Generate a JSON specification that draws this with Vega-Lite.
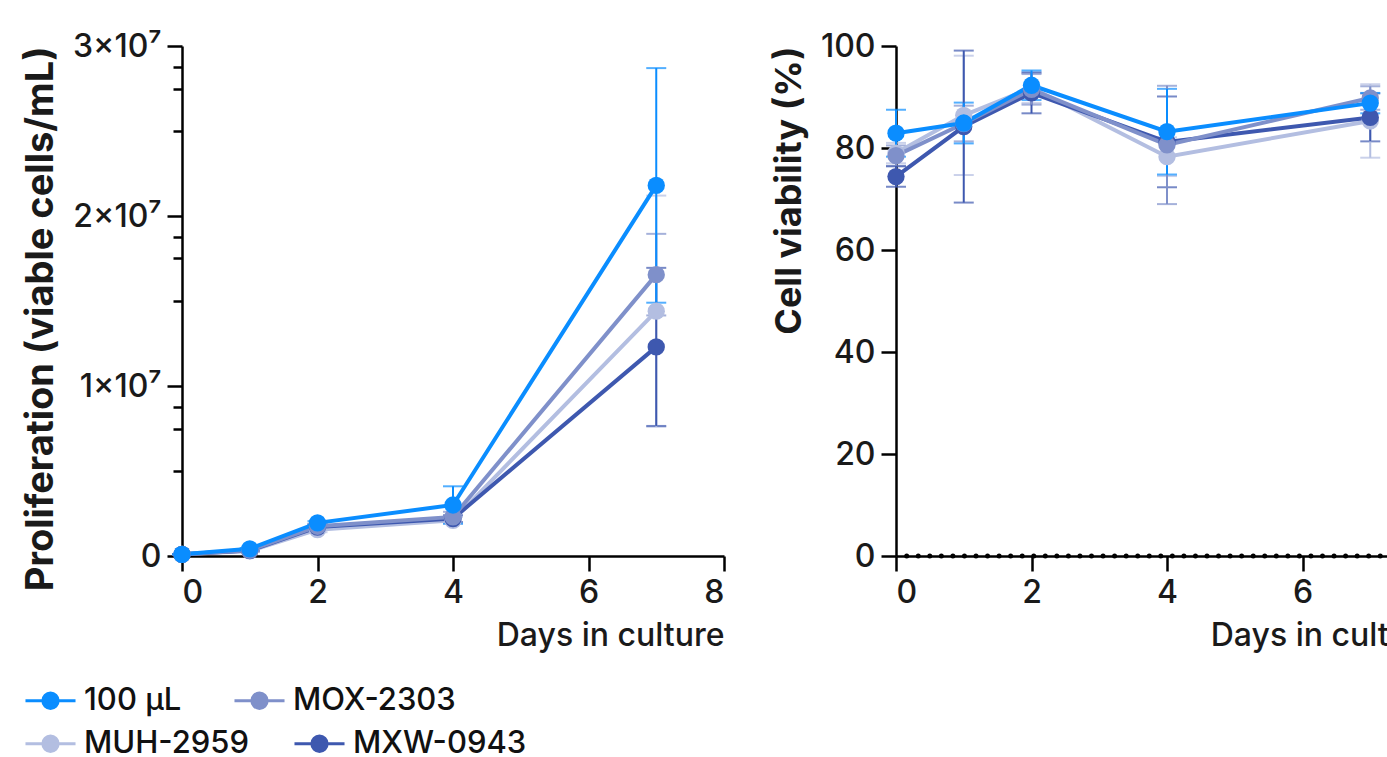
{
  "$schema": "https://vega.github.io/schema/vega-lite/v6.json",
  "background": "white",
  "padding": {"left": 22, "top": 30, "right": 0, "bottom": 0},
  "config": {
    "font": "Inter",
    "view": {"stroke": null},
    "axis": {
      "domainColor": "#000", "domainWidth": 2.5, "tickColor": "#000", "tickWidth": 2.5, "tickSize": 15,
      "labelFontSize": 32, "labelFontWeight": 500, "labelColor": "#1a1a1a", "labelFont": "Inter", "labelPadding": 6,
      "titleFont": "Inter", "titleColor": "#1a1a1a", "grid": false
    }
  },
  "datasets": {
    "prolif": [
      {"day": 0, "group": "MUH-2959", "mean": 100000, "sd": 0},
      {"day": 1, "group": "MUH-2959", "mean": 300000, "sd": 50000},
      {"day": 2, "group": "MUH-2959", "mean": 1550000, "sd": 150000},
      {"day": 4, "group": "MUH-2959", "mean": 2100000, "sd": 200000},
      {"day": 7, "group": "MUH-2959", "mean": 14400000, "sd": 6800000},
      {"day": 0, "group": "MXW-0943", "mean": 100000, "sd": 0},
      {"day": 1, "group": "MXW-0943", "mean": 320000, "sd": 50000},
      {"day": 2, "group": "MXW-0943", "mean": 1700000, "sd": 150000},
      {"day": 4, "group": "MXW-0943", "mean": 2200000, "sd": 200000},
      {"day": 7, "group": "MXW-0943", "mean": 12300000, "sd": 4650000},
      {"day": 0, "group": "MOX-2303", "mean": 100000, "sd": 0},
      {"day": 1, "group": "MOX-2303", "mean": 340000, "sd": 50000},
      {"day": 2, "group": "MOX-2303", "mean": 1750000, "sd": 150000},
      {"day": 4, "group": "MOX-2303", "mean": 2300000, "sd": 300000},
      {"day": 7, "group": "MOX-2303", "mean": 16550000, "sd": 2400000},
      {"day": 0, "group": "100 µL", "mean": 100000, "sd": 0},
      {"day": 1, "group": "100 µL", "mean": 420000, "sd": 50000},
      {"day": 2, "group": "100 µL", "mean": 1950000, "sd": 100000},
      {"day": 4, "group": "100 µL", "mean": 3000000, "sd": 1100000},
      {"day": 7, "group": "100 µL", "mean": 21800000, "sd": 6900000}
    ],
    "viab": [
      {"day": 0, "group": "MUH-2959", "mean": 79.0, "sd": 2},
      {"day": 1, "group": "MUH-2959", "mean": 86.4, "sd": 11.7},
      {"day": 2, "group": "MUH-2959", "mean": 91.8, "sd": 3},
      {"day": 4, "group": "MUH-2959", "mean": 78.3, "sd": 3.8},
      {"day": 7, "group": "MUH-2959", "mean": 85.3, "sd": 7.2},
      {"day": 0, "group": "MXW-0943", "mean": 74.4, "sd": 2},
      {"day": 1, "group": "MXW-0943", "mean": 84.2, "sd": 14.9},
      {"day": 2, "group": "MXW-0943", "mean": 90.8, "sd": 4.0},
      {"day": 4, "group": "MXW-0943", "mean": 81.2, "sd": 8.9},
      {"day": 7, "group": "MXW-0943", "mean": 86.0, "sd": 4.7},
      {"day": 0, "group": "MOX-2303", "mean": 78.5, "sd": 2},
      {"day": 1, "group": "MOX-2303", "mean": 84.8, "sd": 3.5},
      {"day": 2, "group": "MOX-2303", "mean": 91.5, "sd": 3},
      {"day": 4, "group": "MOX-2303", "mean": 80.6, "sd": 11.6},
      {"day": 7, "group": "MOX-2303", "mean": 89.8, "sd": 2.3},
      {"day": 0, "group": "100 µL", "mean": 82.9, "sd": 4.6},
      {"day": 1, "group": "100 µL", "mean": 84.9, "sd": 4.0},
      {"day": 2, "group": "100 µL", "mean": 92.3, "sd": 2.9},
      {"day": 4, "group": "100 µL", "mean": 83.2, "sd": 8.4},
      {"day": 7, "group": "100 µL", "mean": 88.8, "sd": 2}
    ]
  },
  "spacing": 45,
  "resolve": {"legend": {"color": "independent", "stroke": "independent", "fill": "independent"}},
  "hconcat": [
    {
      "width": 542,
      "height": 510,
      "data": {"name": "prolif"},
      "encoding": {
        "x": {
          "field": "day", "type": "quantitative",
          "scale": {"domain": [0, 8], "nice": false},
          "axis": {"values": [0, 2, 4, 6, 8], "title": "Days in culture", "titleAnchor": "end",
                   "titleFontSize": 32, "titleFontWeight": 500, "titlePadding": 12}
        },
        "y": {
          "field": "mean", "type": "quantitative",
          "scale": {"domain": [0, 30000000], "nice": false},
          "axis": {
            "values": [0, 5000000, 7500000, 8750000, 10000000, 15000000, 17500000, 18750000, 20000000, 25000000, 27500000, 28750000, 30000000],
            "labelExpr": "datum.value == 0 ? '0' : (datum.value % 10000000 == 0 ? (datum.value / 10000000) + '×10⁷' : '')",
            "tickSize": {"condition": {"test": "datum.value % 10000000 == 0", "value": 15}, "value": 9},
            "title": "Proliferation (viable cells/mL)", "titleAnchor": "end",
            "titleFontSize": 38, "titleFontWeight": "bold", "titlePadding": 12
          }
        }
      },
      "layer": [
        {"mark": {"type": "errorbar", "thickness": 2, "ticks": {"size": 20}},
         "encoding": {
           "yError": {"field": "sd"},
           "color": {"field": "group", "type": "nominal",
                     "scale": {"domain": ["MUH-2959", "MXW-0943", "100 µL", "MOX-2303"],
                               "range": ["#B3BEE1", "#3E58AF", "#0A8DFF", "#7F90CA"]},
                     "legend": {
                       "orient": "none", "legendX": -147, "legendY": 682,
                       "direction": "horizontal", "values": ["MUH-2959", "MXW-0943"],
                       "title": null, "padding": 0,
                       "symbolType": "M-2.78,0L2.78,0M0.85,0A0.85,0.85,0,1,1,-0.85,0A0.85,0.85,0,1,1,0.85,0Z",
                       "symbolSize": 324, "symbolStrokeWidth": 3,
                       "labelFontSize": 31, "labelFontWeight": 500, "labelOffset": 18, "labelColor": "#111", "labelFont": "Inter",
                       "labelLimit": 0, "columnPadding": 38,
                       "encode": {"symbols": {"update": {
                         "fill": {"scale": "color", "field": "value"},
                         "stroke": {"scale": "color", "field": "value"},
                         "strokeWidth": {"value": 3},
                         "opacity": {"value": 1}
                       }}}
                     }}
         }},
        {"mark": {"type": "line", "strokeWidth": 4},
         "encoding": {
           "stroke": {"field": "group", "type": "nominal",
                      "scale": {"domain": ["MOX-2303", "100 µL", "MXW-0943", "MUH-2959"],
                                "range": ["#7F90CA", "#0A8DFF", "#3E58AF", "#B3BEE1"]},
                      "legend": {
                        "orient": "none", "legendX": -147, "legendY": 639,
                        "direction": "horizontal", "values": ["100 µL", "MOX-2303"],
                        "title": null, "padding": 0,
                        "symbolType": "M-2.78,0L2.78,0M0.85,0A0.85,0.85,0,1,1,-0.85,0A0.85,0.85,0,1,1,0.85,0Z",
                        "symbolSize": 324, "symbolStrokeWidth": 3,
                        "labelFontSize": 31, "labelFontWeight": 500, "labelOffset": 18, "labelColor": "#111", "labelFont": "Inter",
                        "labelLimit": 0, "columnPadding": 46,
                        "encode": {"symbols": {"update": {
                          "fill": {"scale": "stroke", "field": "value"},
                          "stroke": {"scale": "stroke", "field": "value"},
                          "strokeWidth": {"value": 3},
                          "opacity": {"value": 1}
                        }}}
                      }}
         }},
        {"mark": {"type": "point", "filled": true, "size": 300, "opacity": 1},
         "encoding": {
           "fill": {"field": "group", "type": "nominal",
                    "scale": {"domain": ["100 µL", "MOX-2303", "MUH-2959", "MXW-0943"],
                              "range": ["#0A8DFF", "#7F90CA", "#B3BEE1", "#3E58AF"]},
                    "legend": null}
         }}
      ]
    },
    {
      "width": 542,
      "height": 510,
      "layer": [
        {
          "data": {"values": [{}]},
          "mark": {"type": "rule", "color": "#000", "strokeWidth": 5, "strokeDash": [0, 11.55], "strokeCap": "round"},
          "encoding": {"y": {"datum": 0, "type": "quantitative", "scale": {"domain": [0, 100], "nice": false}}}
        },
        {
          "data": {"name": "viab"},
          "encoding": {
            "x": {
              "field": "day", "type": "quantitative",
              "scale": {"domain": [0, 8], "nice": false},
              "axis": {"values": [0, 2, 4, 6, 8], "title": "Days in culture", "titleAnchor": "end",
                       "titleFontSize": 32, "titleFontWeight": 500, "titlePadding": 12}
            },
            "y": {
              "field": "mean", "type": "quantitative",
              "scale": {"domain": [0, 100], "nice": false},
              "axis": {"values": [0, 20, 40, 60, 80, 100], "title": "Cell viability (%)", "titleAnchor": "end",
                       "titleFontSize": 36, "titleFontWeight": "bold", "titlePadding": 12}
            }
          },
          "layer": [
            {"mark": {"type": "errorbar", "thickness": 2, "ticks": {"size": 20}},
             "encoding": {"yError": {"field": "sd"}, "color": {"field": "group", "type": "nominal", "legend": null}}},
            {"mark": {"type": "line", "strokeWidth": 4},
             "encoding": {"stroke": {"field": "group", "type": "nominal", "legend": null}}},
            {"mark": {"type": "point", "filled": true, "size": 300, "opacity": 1},
             "encoding": {"fill": {"field": "group", "type": "nominal", "legend": null}}}
          ]
        }
      ]
    }
  ]
}
